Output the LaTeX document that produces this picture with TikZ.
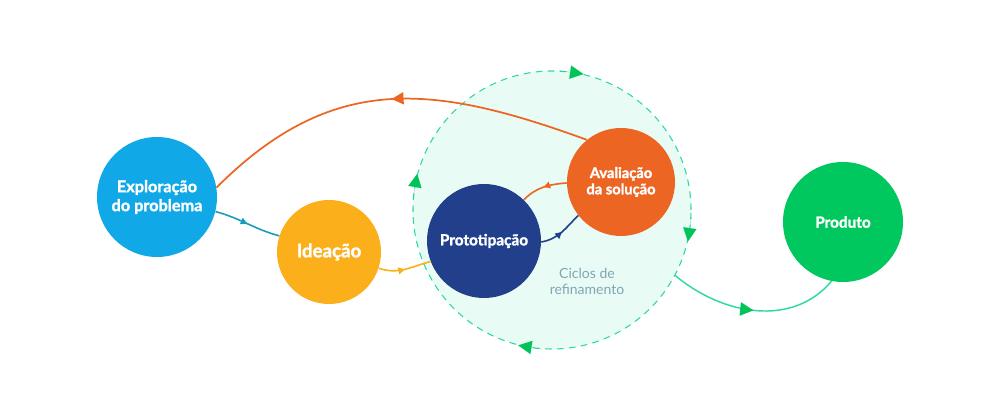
\documentclass[tikz,border=0pt]{standalone}
\usepackage{fontspec}
\setmainfont{Lato}[BoldFeatures={FakeBold=1.6}]
\usepackage{tikz}
\usetikzlibrary{arrows.meta, decorations.markings}

\definecolor{explblue}{HTML}{10A8E6}
\definecolor{ideayellow}{HTML}{FBB01B}
\definecolor{protonavy}{HTML}{213F8B}
\definecolor{avalorange}{HTML}{EC6523}
\definecolor{prodgreen}{HTML}{00C85E}
\definecolor{cyclefill}{HTML}{E8FBF5}
\definecolor{cycleline}{HTML}{2ED8A4}
\definecolor{tipgreen}{HTML}{00C45A}
\definecolor{tealline}{HTML}{1A9DB8}
\definecolor{cycletext}{HTML}{7FA6B3}

\begin{document}
\begin{tikzpicture}[x=0.75pt, y=0.75pt,
    stage/.style={circle, fill=#1, text=white, align=center, inner sep=0pt},
    mid arrow/.style={postaction={decorate}, decoration={markings, mark=at position 0.5 with {\arrow{#1}}}},
  ]
    \useasboundingbox (0,0) rectangle (1000,420);

    % refinement cycle
    \node[circle, fill=cyclefill, draw=cycleline, dash pattern=on 5pt off 4pt, line width=0.8pt, minimum size=208.5pt] (ciclo) at (552,210) {};
    \node[text=cycletext, align=center, font=\fontsize{10.5}{12}\selectfont] (ciclotxt) at (587,139) {Ciclos de\\refinamento};

    % stages
    \node[stage=explblue, minimum size=90pt, font=\bfseries\fontsize{12.2}{14.2}\selectfont] (expl) at (157,223) {Exploração\\do problema};
    \node[stage=ideayellow, minimum size=78pt, font=\bfseries\fontsize{14}{16}\selectfont] (idea) at (329,168) {Ideação};
    \node[stage=protonavy, minimum size=85.5pt, font=\bfseries\fontsize{11.5}{14}\selectfont] (proto) at (484,179) {Prototipação};
    \node[stage=avalorange, minimum size=81pt, font=\bfseries\fontsize{11}{12.2}\selectfont] (aval) at (621,238) {Avaliação\\da solução};
    \node[stage=prodgreen, minimum size=90pt, font=\bfseries\fontsize{11.5}{14}\selectfont] (prod) at (843,198) {Produto};

    % arrows round the cycle
    \foreach \a/\b in {87/77, 175/165, 266/256, 357/347}
        \draw[tipgreen, line width=0.1pt, -{Triangle[length=10pt, width=10pt]}] (ciclo.\a) -- (ciclo.\b);

    % links
    \draw[avalorange, line width=1.3pt, mid arrow={Triangle[length=9pt, width=9pt]}] (aval.129) to[out=160, in=45, looseness=1.12] (expl.9);
    \draw[tealline, line width=1.2pt, mid arrow={Triangle[length=5pt, width=5pt]}] (expl.-14) to[out=-15, in=165] (idea.162);
    \draw[ideayellow, line width=1.2pt, mid arrow={Triangle[length=5pt, width=5pt]}] (idea.-18) to[out=-20, in=195] (proto.201);
    \draw[avalorange, line width=1.2pt, mid arrow={Triangle[length=5pt, width=5pt]}] (aval.181) to[out=185, in=45] (proto.46);
    \draw[protonavy, line width=1.2pt, mid arrow={Triangle[length=5pt, width=5pt]}] (proto.-1) to[out=10, in=225] (aval.218);
    \draw[cycleline, line width=1.1pt, mid arrow={Triangle[length=10pt, width=10pt, color=tipgreen]}] (ciclo.-28) to[out=-40, in=-130] (prod.259);
\end{tikzpicture}
\end{document}
